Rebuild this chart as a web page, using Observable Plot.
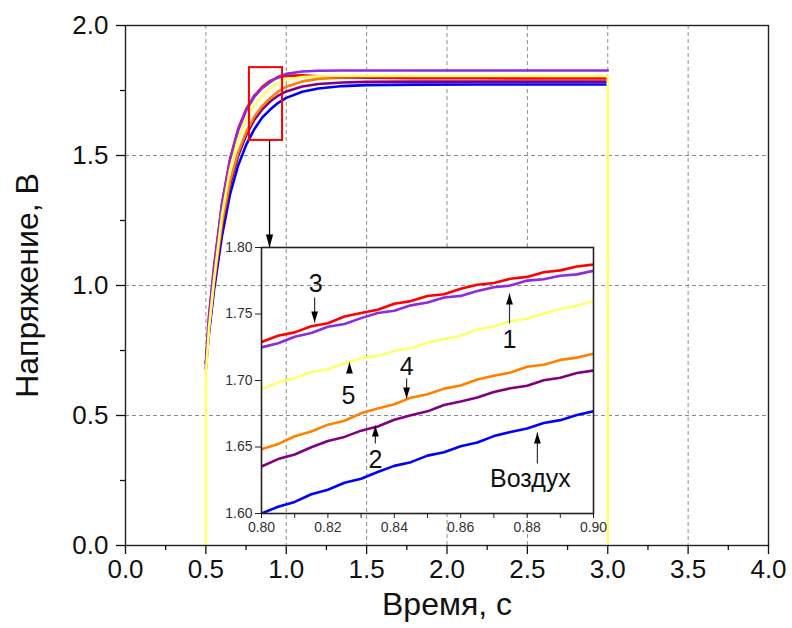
<!DOCTYPE html>
<html><head><meta charset="utf-8">
<script src="https://cdn.jsdelivr.net/npm/d3@7"></script>
<script src="https://cdn.jsdelivr.net/npm/@observablehq/plot@0.6"></script>
<style>
body{margin:0;background:#fff}
#wrap{position:relative;width:792px;height:628px}
#wrap svg{position:absolute;left:0;top:0}
</style>
</head><body><div id="wrap"></div>
<script>
// ---------- data ----------
const seriesNames = ["Воздух", "2", "4", "3", "1", "5"];           // drawing order
const seriesColors = ["#0000ff", "#800080", "#ff8000", "#ff0000", "#8b2be2", "#ffff6e"];

// main chart: time, s  (null = segment not drawn for that curve)
const mainT = [0.5, 0.5, 0.52, 0.55, 0.6, 0.65, 0.7, 0.75, 0.8, 0.85, 0.9, 0.95, 1.0, 1.1, 1.2, 1.35, 1.5, 1.8, 2.2, 2.6, 3.0, 3.0];
const mainAir = [null, 0.70, 0.82, 0.98, 1.19, 1.35, 1.46, 1.54, 1.600, 1.6456, 1.6767, 1.7025, 1.7215, 1.7454, 1.758, 1.767, 1.7707, 1.7725, 1.773, 1.773, 1.773, null];
const main2   = [null, 0.68, 0.83, 0.995, 1.225, 1.385, 1.497, 1.577, 1.6356, 1.6774, 1.7075, 1.7305, 1.7465, 1.7656, 1.775, 1.781, 1.783, 1.784, 1.784, 1.784, 1.784, null];
const main4   = [null, 0.68, 0.84, 1.01, 1.24, 1.40, 1.51, 1.59, 1.648, 1.690, 1.720, 1.7465, 1.7645, 1.785, 1.7947, 1.8004, 1.802, 1.803, 1.803, 1.803, 1.803, null];
const main3   = [null, 0.70, 0.885, 1.07, 1.315, 1.486, 1.601, 1.677, 1.729, 1.763, 1.787, 1.800, 1.807, 1.808, 1.805, 1.801, 1.799, 1.797, 1.797, 1.796, 1.796, null];
const main1   = [null, 0.70, 0.88, 1.06, 1.31, 1.48, 1.595, 1.672, 1.7246, 1.7589, 1.7822, 1.803, 1.814, 1.823, 1.826, 1.827, 1.827, 1.827, 1.827, 1.827, 1.827, null];
const main5   = [0, 0.66, 0.84, 1.02, 1.27, 1.445, 1.562, 1.640, 1.694, 1.728, 1.7594, 1.781, 1.7926, 1.802, 1.805, 1.806, 1.806, 1.806, 1.806, 1.806, 1.806, 0];

// inset: 0.80 .. 0.90 s
const insetT = [0.800, 0.805, 0.810, 0.815, 0.820, 0.825, 0.830, 0.835, 0.840, 0.845, 0.850, 0.855, 0.860, 0.865, 0.870, 0.875, 0.880, 0.885, 0.890, 0.895, 0.900];
const insetAir = [1.6000, 1.6051, 1.6087, 1.6145, 1.6179, 1.6231, 1.6261, 1.6312, 1.6358, 1.6386, 1.6435, 1.6461, 1.6505, 1.6534, 1.6582, 1.6613, 1.6639, 1.6681, 1.6702, 1.6740, 1.6769];
const inset2   = [1.6353, 1.6409, 1.6444, 1.6498, 1.6545, 1.6576, 1.6623, 1.6654, 1.6705, 1.6739, 1.6768, 1.6816, 1.6842, 1.6872, 1.6914, 1.6942, 1.6961, 1.7002, 1.7021, 1.7056, 1.7075];
const inset4   = [1.6483, 1.6522, 1.6581, 1.6617, 1.6668, 1.6697, 1.6753, 1.6790, 1.6821, 1.6871, 1.6897, 1.6939, 1.6963, 1.7008, 1.7036, 1.7060, 1.7103, 1.7119, 1.7155, 1.7172, 1.7202];
const inset3   = [1.7290, 1.7336, 1.7362, 1.7408, 1.7430, 1.7481, 1.7508, 1.7532, 1.7577, 1.7597, 1.7635, 1.7649, 1.7690, 1.7720, 1.7733, 1.7765, 1.7779, 1.7814, 1.7828, 1.7857, 1.7872];
const inset1   = [1.7249, 1.7280, 1.7329, 1.7357, 1.7404, 1.7425, 1.7469, 1.7507, 1.7525, 1.7565, 1.7587, 1.7624, 1.7636, 1.7673, 1.7701, 1.7714, 1.7751, 1.7761, 1.7788, 1.7798, 1.7825];
const inset5   = [1.6936, 1.6985, 1.7018, 1.7062, 1.7084, 1.7128, 1.7168, 1.7185, 1.7222, 1.7243, 1.7286, 1.7311, 1.7336, 1.7384, 1.7407, 1.7445, 1.7464, 1.7504, 1.7537, 1.7563, 1.7597];

// ticks / grid
const xMajor = [0, 0.5, 1, 1.5, 2, 2.5, 3, 3.5, 4];
const xMinor = [0.25, 0.75, 1.25, 1.75, 2.25, 2.75, 3.25, 3.75];
const yMajor = [0, 0.5, 1, 1.5, 2];
const yMinor = [0.25, 0.75, 1.25, 1.75];
const gridXFull = [0.5, 1, 1.5, 3, 3.5];
const gridXBroken = [2, 2.5];
const gridY = [0.5, 1, 1.5];
const insetXMajor = [0.80, 0.82, 0.84, 0.86, 0.88, 0.90];
const insetXMinor = [0.81, 0.83, 0.85, 0.87, 0.89];
const insetYMajor = [1.60, 1.65, 1.70, 1.75, 1.80];

// zoom box and pointer in main chart
const zoomBox = [{x1: 0.771, x2: 0.977, y1: 1.558, y2: 1.838}];
const zoomArrow = [{x: 0.896, from: 1.558, to: 1.146}];

// inset annotations
const insetLabels = [
  {text: "3", t: 0.8163, v: 1.7729},
  {text: "1", t: 0.8747, v: 1.7301},
  {text: "5", t: 0.8262, v: 1.6880},
  {text: "4", t: 0.8437, v: 1.7098},
  {text: "2", t: 0.8343, v: 1.6406},
  {text: "Воздух", t: 0.8810, v: 1.6263}
];
const insetArrows = [
  {t: 0.8160, from: 1.7624, to: 1.7436},
  {t: 0.8747, from: 1.7429, to: 1.7654},
  {t: 0.8265, from: 1.7053, to: 1.7135},
  {t: 0.8437, from: 1.7015, to: 1.6865},
  {t: 0.8343, from: 1.6526, to: 1.6662},
  {t: 0.8831, from: 1.6376, to: 1.6609}
];

const xTitle = "Время, с";
const yTitle = "Напряжение, В";

// ---------- build rows ----------
const mainSeries = [mainAir, main2, main4, main3, main1, main5];
const insetSeries = [insetAir, inset2, inset4, inset3, inset1, inset5];
const mainRows = seriesNames.flatMap((s, k) => mainT.map((t, i) => ({s, t, v: mainSeries[k][i]})));
const insetRows = seriesNames.flatMap((s, k) => insetT.map((t, i) => ({s, t, v: insetSeries[k][i]})));

// ---------- layout ----------
const W = 792, H = 628;
const M = {left: 125, right: 24, top: 25, bottom: 83};
const I = {left: 261, right: 593, top: 247, bottom: 513};
const yMainPx = d3.scaleLinear([0, 2], [H - M.bottom, M.top]);
const breakLo = yMainPx.invert(I.bottom), breakHi = yMainPx.invert(I.top);

const font = "'Liberation Sans', Arial, Helvetica, sans-serif";
const fmt1 = d3.format(".1f"), fmt2 = d3.format(".2f");
const headDown = (L, w) => ({draw(c) { c.moveTo(0, 0); c.lineTo(-w, -L); c.lineTo(w, -L); c.closePath(); }});
const headUp = (L, w) => ({draw(c) { c.moveTo(0, 0); c.lineTo(-w, L); c.lineTo(w, L); c.closePath(); }});
const grid = {stroke: "#8c8c8c", strokeWidth: 1, strokeDasharray: "4,3"};

const main = Plot.plot({
  width: W, height: H,
  marginLeft: M.left, marginRight: M.right, marginTop: M.top, marginBottom: M.bottom,
  style: {fontFamily: font, background: "transparent", color: "#111", overflow: "visible"},
  x: {domain: [0, 4]},
  y: {domain: [0, 2]},
  color: {domain: seriesNames, range: seriesColors},
  marks: [
    Plot.ruleX(gridXFull, grid),
    Plot.ruleX(gridXBroken, {...grid, y1: 0, y2: breakLo}),
    Plot.ruleX(gridXBroken, {...grid, y1: breakHi, y2: 2}),
    Plot.ruleY(gridY, grid),
    Plot.line(mainRows, {x: "t", y: "v", z: "s", stroke: "s", strokeWidth: 2.6, strokeLinejoin: "round"}),
    Plot.rect(zoomBox, {x1: "x1", x2: "x2", y1: "y1", y2: "y2", fill: "none", stroke: "#ff0000", strokeWidth: 2}),
    Plot.link(zoomArrow, {x1: "x", x2: "x", y1: "from", y2: "to", stroke: "#000", strokeWidth: 1.3}),
    Plot.dot(zoomArrow, {x: "x", y: "to", symbol: headDown(13, 3.6), fill: "#000", stroke: "none"}),
    Plot.frame({stroke: "#222", strokeWidth: 1.4}),
    Plot.axisX(xMinor, {tickSize: 5, tickFormat: () => "", label: null, strokeWidth: 1.3}),
    Plot.axisX(xMajor, {tickSize: 9, tickPadding: 5, tickFormat: fmt1, fontSize: 26, label: null, strokeWidth: 1.3}),
    Plot.axisY(yMinor, {tickSize: 5, tickFormat: () => "", label: null, strokeWidth: 1.3}),
    Plot.axisY(yMajor, {tickSize: 9, tickPadding: 8, tickFormat: fmt1, fontSize: 26, label: null, strokeWidth: 1.3}),
    Plot.text([xTitle], {frameAnchor: "bottom", dy: 69, fontSize: 32, fill: "#111", lineHeight: 1}),
    Plot.text([yTitle], {frameAnchor: "left", textAnchor: "middle", dx: -98, rotate: -90, fontSize: 32, fill: "#111"})
  ]
});

const inset = Plot.plot({
  width: W, height: H,
  marginLeft: I.left, marginRight: W - I.right, marginTop: I.top, marginBottom: H - I.bottom,
  style: {fontFamily: font, background: "transparent", color: "#222", overflow: "visible"},
  x: {domain: [0.8, 0.9]},
  y: {domain: [1.6, 1.8]},
  color: {domain: seriesNames, range: seriesColors},
  marks: [
    Plot.line(insetRows, {x: "t", y: "v", z: "s", stroke: "s", strokeWidth: 2.6, strokeLinejoin: "round", clip: true}),
    Plot.frame({stroke: "#222", strokeWidth: 1.6}),
    Plot.axisX(insetXMinor, {tickSize: 5, tickFormat: () => "", label: null}),
    Plot.axisX(insetXMajor, {tickSize: 5, tickPadding: 4, tickFormat: fmt2, fontSize: 14, fill: "#333", label: null}),
    Plot.axisY(insetYMajor, {tickSize: 6, tickPadding: 3, tickFormat: fmt2, fontSize: 14, fill: "#333", label: null}),
    Plot.link(insetArrows, {x1: "t", x2: "t", y1: "from", y2: "to", stroke: "#333", strokeWidth: 1.2}),
    Plot.dot(insetArrows.filter(d => d.to < d.from), {x: "t", y: "to", symbol: headDown(11, 3.4), fill: "#000", stroke: "none"}),
    Plot.dot(insetArrows.filter(d => d.to > d.from), {x: "t", y: "to", symbol: headUp(11, 3.4), fill: "#000", stroke: "none"}),
    Plot.text(insetLabels, {x: "t", y: "v", text: "text", fontSize: 25, fill: "#111"})
  ]
});

const wrap = document.getElementById("wrap");
wrap.appendChild(main);
wrap.appendChild(inset);
</script>
</body></html>
